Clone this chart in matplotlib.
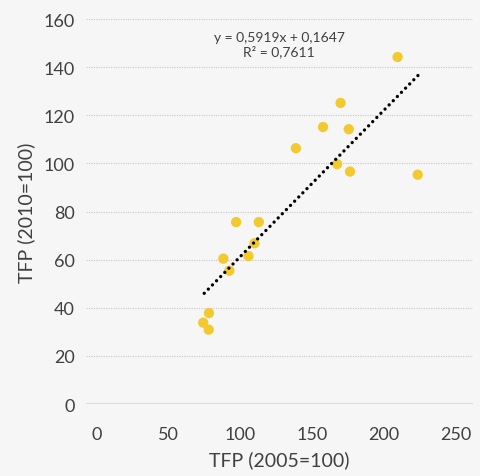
import matplotlib
matplotlib.use("Agg")
import matplotlib.pyplot as plt

tfp_2005 = [209.5, 169.8, 157.6, 175.5, 138.7, 167.4, 176.4, 223.5,
            97.1, 112.9, 109.9, 88.2, 105.7, 92.4, 78.2, 74.2, 78.0]
tfp_2010 = [144.2, 125.1, 115.1, 114.2, 106.3, 99.7, 96.6, 95.3,
            75.6, 75.6, 66.8, 60.4, 61.5, 55.4, 37.8, 33.8, 30.9]
trend_x = [74.9, 224.0]
trend_y = [46.0, 136.7]
x_ticks = [0, 50, 100, 150, 200, 250]
y_ticks = [0, 20, 40, 60, 80, 100, 120, 140, 160]
equation = "y = 0,5919x + 0,1647\nR² = 0,7611"

plt.rcParams['font.family'] = ['Lato', 'DejaVu Sans']
bg = '#f6f6f6'
txt = '#404040'

fig = plt.figure(figsize=(4.8, 4.77), dpi=100, facecolor=bg)
ax = fig.add_axes([86/480, 1-405/477, (473-86)/480, (405-20)/477])
ax.set_facecolor(bg)

ax.scatter(tfp_2005, tfp_2010, s=55, color='#f2c92e', edgecolors='none', zorder=3)
ax.plot(trend_x, trend_y, color='black', linewidth=2.4,
        linestyle=(0, (0.01, 1.75)), dash_capstyle='round', zorder=4)

ax.set_xlim(-7.4, 262)
ax.set_ylim(0, 160)
ax.set_xticks(x_ticks)
ax.set_yticks(y_ticks)
for y in y_ticks[1:]:
    ax.axhline(y, color='#c4c4c4', linewidth=0.8, linestyle=(0, (1, 1.2)), zorder=1)
ax.axhline(0, color='#d6d6d6', linewidth=1.2, zorder=1)
for s in ax.spines.values():
    s.set_visible(False)
ax.tick_params(length=0, labelsize=13, labelcolor=txt)
ax.tick_params(axis='x', pad=16)
ax.tick_params(axis='y', pad=8)

ax.set_xlabel("TFP (2005=100)", fontsize=14, color=txt, labelpad=6)
ax.set_ylabel("TFP (2010=100)", fontsize=14, color=txt, labelpad=6)

ax.text(127, 149.7, equation, ha='center', va='center', fontsize=10,
        color=txt, linespacing=1.1)

fig.savefig("out.png", dpi=100, facecolor=bg)
